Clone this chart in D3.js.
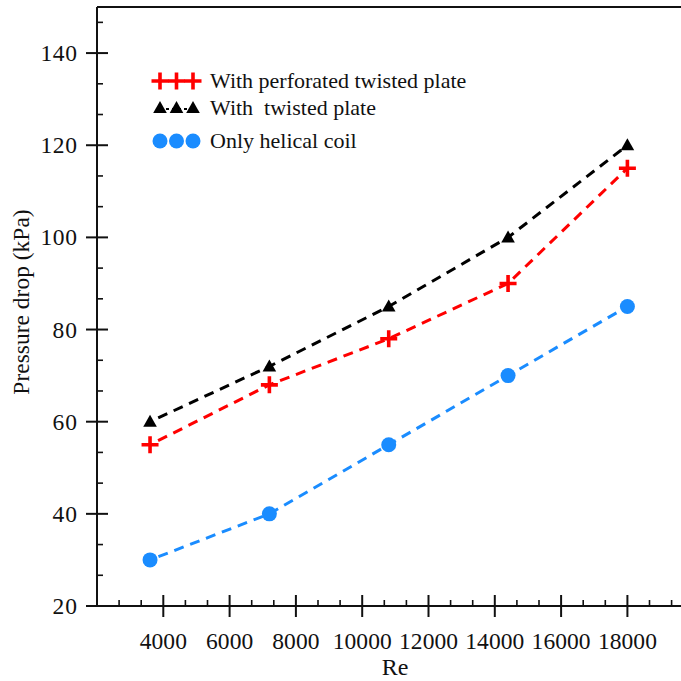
<!DOCTYPE html>
<html>
<head>
<meta charset="utf-8">
<script src="https://cdn.jsdelivr.net/npm/d3@7"></script>
<style>
  body { margin: 0; background: #fff; }
  svg text { fill: #111; white-space: pre; }
</style>
</head>
<body>
<svg id="chart"></svg>
<script>
// data
var re = [3600, 7200, 10800, 14400, 18000]
var perforated = [55, 68, 78, 90, 115]
var twisted = [60, 72, 85, 100, 120]
var coilOnly = [30, 40, 55, 70, 85]
var xTicks = [4000, 6000, 8000, 10000, 12000, 14000, 16000, 18000]
var yTicks = [20, 40, 60, 80, 100, 120, 140]
var legendLabels = ['With perforated twisted plate', 'With  twisted plate', 'Only helical coil']

var W = 681, H = 681
var serif = '"Liberation Serif", "Times New Roman", serif'
var svg = d3.select('#chart').attr('width', W).attr('height', H)
svg.append('rect').attr('width', W).attr('height', H).attr('fill', '#fff')

var x = d3.scaleLinear().domain([2000, 20000]).range([97, 97 + 18 * 33.15])
var y = d3.scaleLinear().domain([20, 150]).range([606, 7])

// minor ticks: two between each pair of majors
var xMinor = d3.range(2000, 20001, 2000 / 3).filter((v, i) => i % 3 != 0)
var yMinor = d3.range(20, 150.1, 20 / 3).filter((v, i) => i % 3 != 0)

var axes = svg.append('g').attr('stroke', '#111')
// frame: left, bottom and top lines
axes.append('line').attr('x1', x(2000)).attr('x2', W).attr('y1', y(20)).attr('y2', y(20)).attr('stroke-width', 2)
axes.append('line').attr('x1', x(2000)).attr('x2', W).attr('y1', y(150)).attr('y2', y(150)).attr('stroke-width', 2)
axes.append('line').attr('x1', x(2000)).attr('x2', x(2000)).attr('y1', y(20)).attr('y2', y(150)).attr('stroke-width', 2)

axes.selectAll('.xmaj').data(xTicks).join('line')
    .attr('x1', d => x(d)).attr('x2', d => x(d))
    .attr('y1', y(20) - 11).attr('y2', y(20) + 11).attr('stroke-width', 2)
axes.selectAll('.xmin').data(xMinor).join('line')
    .attr('x1', d => x(d)).attr('x2', d => x(d))
    .attr('y1', y(20) - 6).attr('y2', y(20)).attr('stroke-width', 1.6)
axes.selectAll('.ymaj').data(yTicks).join('line')
    .attr('x1', x(2000) - 11).attr('x2', x(2000) + 11)
    .attr('y1', d => y(d)).attr('y2', d => y(d)).attr('stroke-width', 2)
axes.selectAll('.ymin').data(yMinor).join('line')
    .attr('x1', x(2000)).attr('x2', x(2000) + 6)
    .attr('y1', d => y(d)).attr('y2', d => y(d)).attr('stroke-width', 1.6)

svg.selectAll('.xlab').data(xTicks).join('text')
    .attr('font-family', serif)
    .attr('x', d => x(d)).attr('y', 649).attr('text-anchor', 'middle')
    .attr('font-size', 23.5).attr('textLength', d => String(d).length * 11.8).text(d => d)
svg.selectAll('.ylab').data(yTicks).join('text')
    .attr('font-family', serif)
    .attr('x', 77).attr('y', d => y(d) + 8).attr('text-anchor', 'end')
    .attr('font-size', 23.5).attr('textLength', d => String(d).length * 12.2).text(d => d)

svg.append('text').attr('x', 395).attr('y', 675).attr('text-anchor', 'middle')
    .attr('font-family', serif).attr('font-size', 24).text('Re')
svg.append('text').attr('transform', 'translate(29,302) rotate(-90)')
    .attr('font-family', serif)
    .attr('text-anchor', 'middle').attr('font-size', 23.5).text('Pressure drop (kPa)')

var line = d3.line().x(d => x(d[0])).y(d => y(d[1]))
var series = [
  {vals: perforated, color: '#ff0000', shape: 'plus'},
  {vals: twisted, color: '#000000', shape: 'tri'},
  {vals: coilOnly, color: '#1a8cff', shape: 'dot'}
]

function drawMarker(g, shape, color, cx, cy){
  if (shape == 'plus') {
    g.append('path').attr('d', `M${cx-8.5},${cy}H${cx+8.5}M${cx},${cy-8.5}V${cy+8.5}`)
      .attr('stroke', color).attr('stroke-width', 3.6).attr('fill', 'none')
  } else if (shape == 'tri') {
    g.append('path').attr('d', `M${cx},${cy-7}L${cx+6.8},${cy+5}L${cx-6.8},${cy+5}Z`)
      .attr('fill', color)
  } else {
    g.append('circle').attr('cx', cx).attr('cy', cy).attr('r', 7.5).attr('fill', color)
  }
}

series.forEach(s => {
  var pts = re.map((r, i) => [r, s.vals[i]])
  svg.append('path').datum(pts).attr('d', line)
      .attr('fill', 'none').attr('stroke', s.color).attr('stroke-width', 3)
      .attr('stroke-dasharray', '10,7').attr('stroke-dashoffset', -9)
  var g = svg.append('g')
  pts.forEach(p => drawMarker(g, s.shape, s.color, x(p[0]), y(p[1])))
})

// legend
var legY = [81, 108, 141]
series.forEach((s, i) => {
  var g = svg.append('g')
  if (s.shape == 'tri') {
    g.append('line').attr('x1', 160).attr('x2', 193).attr('y1', legY[i] + 1).attr('y2', legY[i] + 1)
      .attr('stroke', s.color).attr('stroke-width', 2).attr('stroke-dasharray', '3,3')
  }
  ;[160, 176.5, 193].forEach(cx => drawMarker(g, s.shape, s.color, cx, legY[i]))
  svg.append('text').attr('x', 210).attr('y', legY[i] + 7)
      .attr('font-family', serif).attr('font-size', 22).text(legendLabels[i])
})
</script>
</body>
</html>
